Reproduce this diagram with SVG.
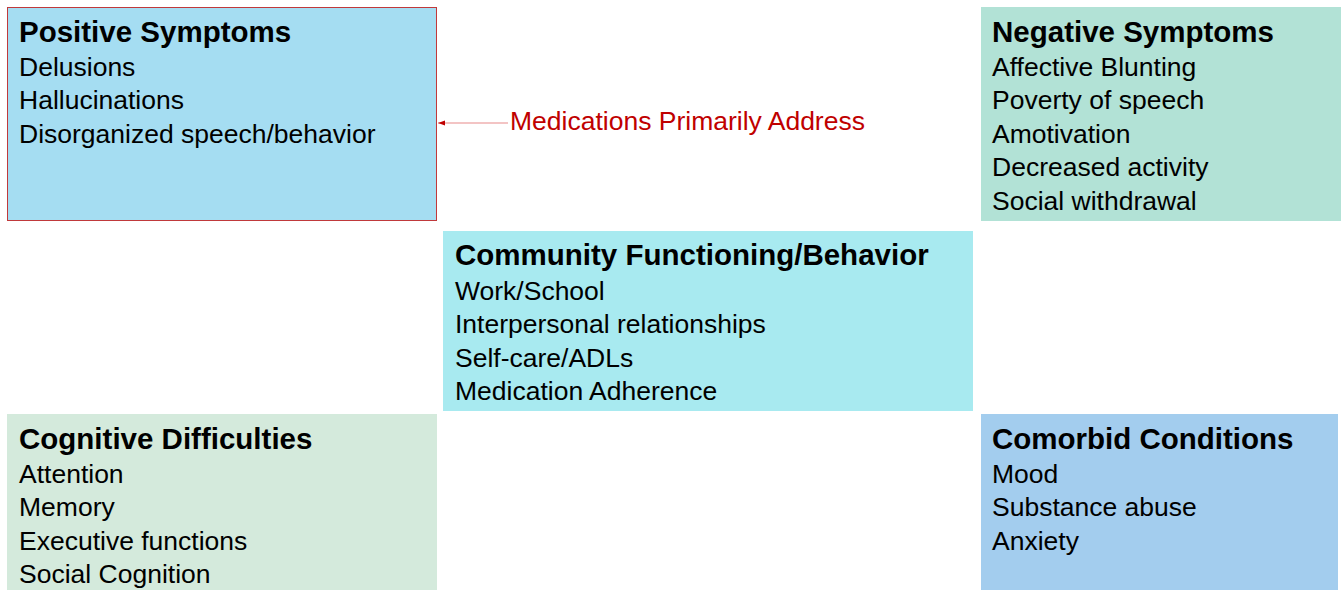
<svg xmlns="http://www.w3.org/2000/svg" width="1341" height="590" viewBox="0 0 1341 590">
<style>
text{font-family:"Liberation Sans",Arial,sans-serif;fill:#000}
.t{font-size:29.5px;font-weight:bold}
.i{font-size:26.5px}
.lbl{font-size:26.5px;fill:#c00000}
</style>
<defs>
<marker id="ah" viewBox="0 0 10 10" refX="10" refY="5" markerWidth="7" markerHeight="7" orient="auto" markerUnits="userSpaceOnUse">
<path d="M0,1.5 L10,5 L0,8.5 Z" fill="#c00000"/>
</marker>
</defs>
<rect width="1341" height="590" fill="#fff"/>
<g id="positive">
<rect x="7.5" y="7.5" width="429" height="213" fill="#a5ddf2" stroke="#c0393b" stroke-width="1"/>
<text class="t" x="19" y="42">Positive Symptoms</text>
<text class="i" x="19" y="76">Delusions</text>
<text class="i" x="19" y="109">Hallucinations</text>
<text class="i" x="19" y="143">Disorganized speech/behavior</text>
</g>
<g id="negative">
<rect x="981" y="7" width="360" height="214" fill="#b2e2d6"/>
<text class="t" x="992" y="42">Negative Symptoms</text>
<text class="i" x="992" y="76">Affective Blunting</text>
<text class="i" x="992" y="109">Poverty of speech</text>
<text class="i" x="992" y="143">Amotivation</text>
<text class="i" x="992" y="176">Decreased activity</text>
<text class="i" x="992" y="210">Social withdrawal</text>
</g>
<g id="community">
<rect x="443" y="231" width="530" height="180" fill="#a8eaf0"/>
<text class="t" x="455" y="265">Community Functioning/Behavior</text>
<text class="i" x="455" y="300">Work/School</text>
<text class="i" x="455" y="333">Interpersonal relationships</text>
<text class="i" x="455" y="367">Self-care/ADLs</text>
<text class="i" x="455" y="400">Medication Adherence</text>
</g>
<g id="cognitive">
<rect x="7" y="414" width="430" height="176" fill="#d4eadc"/>
<text class="t" x="19" y="449">Cognitive Difficulties</text>
<text class="i" x="19" y="483">Attention</text>
<text class="i" x="19" y="516">Memory</text>
<text class="i" x="19" y="550">Executive functions</text>
<text class="i" x="19" y="583">Social Cognition</text>
</g>
<g id="comorbid">
<rect x="981" y="414" width="357" height="176" fill="#a3cdee"/>
<text class="t" x="992" y="449">Comorbid Conditions</text>
<text class="i" x="992" y="483">Mood</text>
<text class="i" x="992" y="516">Substance abuse</text>
<text class="i" x="992" y="550">Anxiety</text>
</g>
<g id="connectors">
<line x1="508" y1="123" x2="438" y2="123" stroke="#e88a8a" stroke-width="1.2" marker-end="url(#ah)"/>
<text class="lbl" x="510" y="130">Medications Primarily Address</text>
</g>
</svg>
